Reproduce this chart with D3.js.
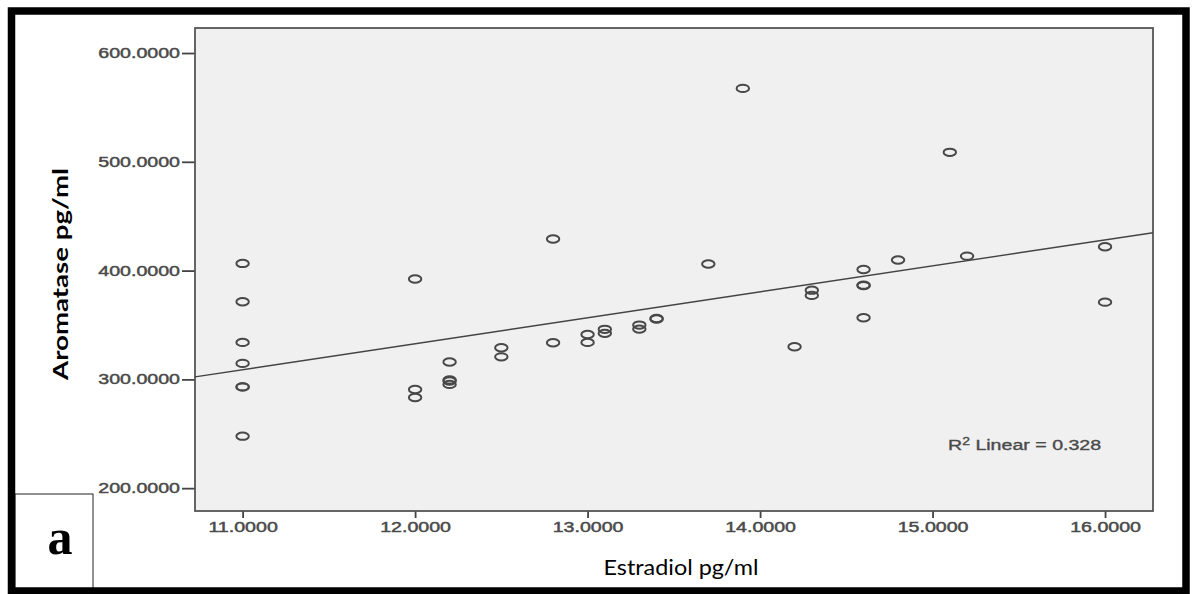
<!DOCTYPE html>
<html>
<head>
<meta charset="utf-8">
<script src="https://cdn.jsdelivr.net/npm/d3@7/dist/d3.min.js"></script>
<style>
  html, body { margin: 0; padding: 0; background: #ffffff; }
  svg { display: block; }
</style>
</head>
<body>
<svg id="chart" width="1197" height="594"></svg>
<script>
// ---- data ----
const estradiol = [
  11, 11, 11, 11, 11, 11, 11,
  12, 12, 12,
  12.2, 12.2, 12.2, 12.2,
  12.5, 12.5,
  12.8, 12.8,
  13.0, 13.0,
  13.1, 13.1,
  13.3, 13.3,
  13.4, 13.4,
  13.7,
  13.9,
  14.2,
  14.3, 14.3,
  14.6, 14.6, 14.6, 14.6,
  14.8,
  15.1,
  15.2,
  16.0, 16.0
];
const aromatase = [
  406.6, 371.3, 334.0, 314.7, 293.1, 293.1, 247.8,
  392.2, 290.7, 283.4,
  316.0, 299.5, 298.5, 295.4,
  329.0, 320.7,
  429.0, 333.6,
  341.3, 334.0,
  346.0, 342.3,
  349.9, 346.2,
  356.0, 355.5,
  406.0,
  567.5,
  330.0,
  382.0, 377.2,
  401.0, 386.6, 386.2, 356.6,
  409.7,
  508.7,
  413.3,
  421.9, 371.0
];
const xTicks = [11, 12, 13, 14, 15, 16];
const yTicks = [200, 300, 400, 500, 600];
const xDomain = [10.724, 16.278];
const yDomain = [179, 623];
// fit line: aromatase = intercept + slope * (estradiol - 11)
const fitIntercept11 = 308.9;
const fitSlope = 23.86;
const r2Label = "0.328";
const xTitle = "Estradiol pg/ml";
const yTitle = "Aromatase pg/ml";
const panelLabel = "a";

// ---- layout ----
const svg = d3.select("#chart");
const plot = { left: 195, top: 28, right: 1153, bottom: 511 };
const stretch = 1.4;

const x = d3.scaleLinear().domain(xDomain).range([plot.left, plot.right]);
const y = d3.scaleLinear().domain(yDomain).range([plot.bottom, plot.top]);

// plot background
svg.append("rect")
  .attr("x", plot.left).attr("y", plot.top)
  .attr("width", plot.right - plot.left).attr("height", plot.bottom - plot.top)
  .attr("fill", "#f0f0f0");

// axes
const fmt = d => d.toFixed(4);
const yAxis = svg.append("g")
  .attr("transform", `translate(${plot.left},0)`)
  .call(d3.axisLeft(y).tickValues(yTicks).tickFormat(fmt).tickSize(13).tickPadding(2));
const xAxis = svg.append("g")
  .attr("transform", `translate(0,${plot.bottom})`)
  .call(d3.axisBottom(x).tickValues(xTicks).tickFormat(fmt).tickSize(7).tickPadding(4));

[yAxis, xAxis].forEach(g => {
  g.select(".domain").remove();
  g.selectAll(".tick line").attr("stroke", "#444").attr("stroke-width", 1.8);
  g.selectAll(".tick text")
    .attr("fill", "#4a4a4a")
    .attr("stroke", "#4a4a4a").attr("stroke-width", 0.45)
    .style("font-family", "'Liberation Sans', Arial, sans-serif")
    .style("font-size", "14px");
});
yAxis.selectAll(".tick text").each(function() {
  const t = d3.select(this);
  const xv = +t.attr("x");
  t.attr("x", xv / stretch).attr("transform", `scale(${stretch},1)`);
});
xAxis.selectAll(".tick text").attr("transform", `scale(${stretch},1)`);

// plot border
svg.append("rect")
  .attr("x", plot.left).attr("y", plot.top)
  .attr("width", plot.right - plot.left).attr("height", plot.bottom - plot.top)
  .attr("fill", "none").attr("stroke", "#555").attr("stroke-width", 1.8);

// fit line
const fit = v => fitIntercept11 + fitSlope * (v - 11);
svg.append("line")
  .attr("x1", x(xDomain[0])).attr("y1", y(fit(xDomain[0])))
  .attr("x2", x(xDomain[1])).attr("y2", y(fit(xDomain[1])))
  .attr("stroke", "#444").attr("stroke-width", 1.4);

// points
const pts = estradiol.map((e, i) => ({ e, a: aromatase[i] }));
svg.append("g").selectAll("ellipse").data(pts).join("ellipse")
  .attr("cx", d => x(d.e)).attr("cy", d => y(d.a))
  .attr("rx", 6.2).attr("ry", 3.7)
  .attr("fill", "none").attr("stroke", "#484848").attr("stroke-width", 2);

// R2 label
const r2 = svg.append("g").attr("transform", `translate(948,450) scale(${stretch},1)`)
  .append("text")
  .attr("fill", "#4a4a4a")
  .attr("stroke", "#4a4a4a").attr("stroke-width", 0.35)
  .style("font-family", "'Liberation Sans', Arial, sans-serif")
  .style("font-size", "14px");
r2.append("tspan").text("R");
r2.append("tspan").attr("dy", -5).style("font-size", "10px").text("2");
r2.append("tspan").attr("dy", 5).text(" Linear = " + r2Label);

// axis titles
svg.append("text")
  .attr("transform", "translate(68,274) rotate(-90)")
  .attr("text-anchor", "middle")
  .attr("textLength", 212).attr("lengthAdjust", "spacingAndGlyphs")
  .style("font-family", "Lato, 'Open Sans', sans-serif")
  .style("font-weight", "bold").style("font-size", "20px")
  .attr("fill", "#000")
  .text(yTitle);

svg.append("text")
  .attr("x", 681).attr("y", 575)
  .attr("text-anchor", "middle")
  .attr("textLength", 155).attr("lengthAdjust", "spacingAndGlyphs")
  .style("font-family", "Lato, 'Open Sans', sans-serif")
  .style("font-size", "21px")
  .attr("fill", "#000")
  .text(xTitle);

// panel label box
svg.append("rect")
  .attr("x", 15).attr("y", 494).attr("width", 78).attr("height", 98)
  .attr("fill", "#fff").attr("stroke", "#222").attr("stroke-width", 1);
svg.append("text")
  .attr("x", 60).attr("y", 554)
  .attr("text-anchor", "middle")
  .style("font-family", "'Liberation Serif', 'Times New Roman', serif")
  .style("font-weight", "bold").style("font-size", "50px")
  .attr("fill", "#000")
  .text(panelLabel);

// outer frame
svg.append("rect")
  .attr("x", 11.5).attr("y", 11).attr("width", 1174.5).attr("height", 580)
  .attr("fill", "none").attr("stroke", "#000").attr("stroke-width", 7.5);
</script>
</body>
</html>
